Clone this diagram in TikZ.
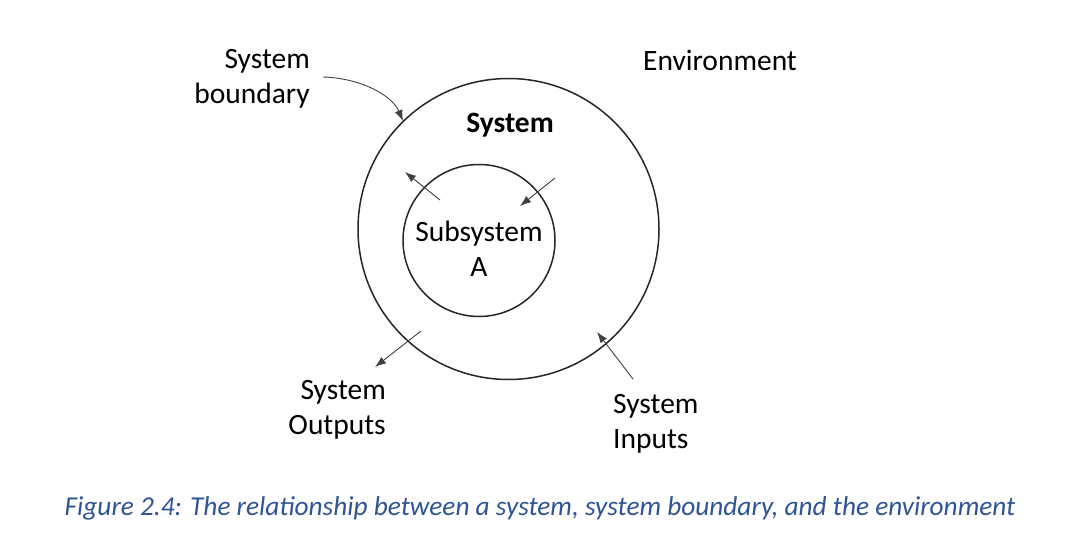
\documentclass[tikz,border=0pt]{standalone}
\usepackage{fontspec}
\setmainfont{Carlito}
\usetikzlibrary{arrows.meta}
\definecolor{capblue}{RGB}{47,84,150}
\begin{document}
\begin{tikzpicture}[x=1pt,y=-1pt,
  lbl/.style={font=\fontsize{29.5}{35}\selectfont, inner sep=0pt, align=#1},
  lbl/.default=center,
  ring/.style={draw=black!85, line width=1.5pt},
  flow/.style={draw=black!75, line width=0.9pt, -{Latex[length=11pt,width=8pt]}}]
\useasboundingbox (0,0) rectangle (1066,540);
\draw[ring] (508.5,229) circle (150.5);
\draw[ring] (479,240.5) circle (76);
\node[lbl=right, anchor=east] (sb) at (310,79) {System\\boundary};
\node[lbl] (env) at (720,60) {Environment};
\node[lbl, font=\fontsize{29.5}{35}\selectfont\bfseries] (sys) at (510,125) {System};
\node[lbl] (sub) at (479,249) {Subsystem\\A};
\node[lbl=right, anchor=east] (out) at (386,410) {System\\Outputs};
\node[lbl=left, anchor=west] (in) at (613,424) {System\\Inputs};
\node[font=\fontsize{27.3}{32}\selectfont\itshape, text=capblue, inner sep=0pt] (cap) at (540,508) {Figure 2.4: The relationship between a system, system boundary, and the environment};
\coordinate (b0) at (323,77); \coordinate (b1) at (403,121);
\coordinate (a0) at (440,200); \coordinate (a1) at (405,172);
\coordinate (c0) at (555,178); \coordinate (c1) at (520,206);
\coordinate (o0) at (421,331); \coordinate (o1) at (375,367);
\coordinate (i0) at (633,379); \coordinate (i1) at (597,332);
\draw[flow] (b0) .. controls (360,78) and (392,95) .. (b1);
\draw[flow] (a0) -- (a1);
\draw[flow] (c0) -- (c1);
\draw[flow] (o0) -- (o1);
\draw[flow] (i0) -- (i1);
\end{tikzpicture}
\end{document}
